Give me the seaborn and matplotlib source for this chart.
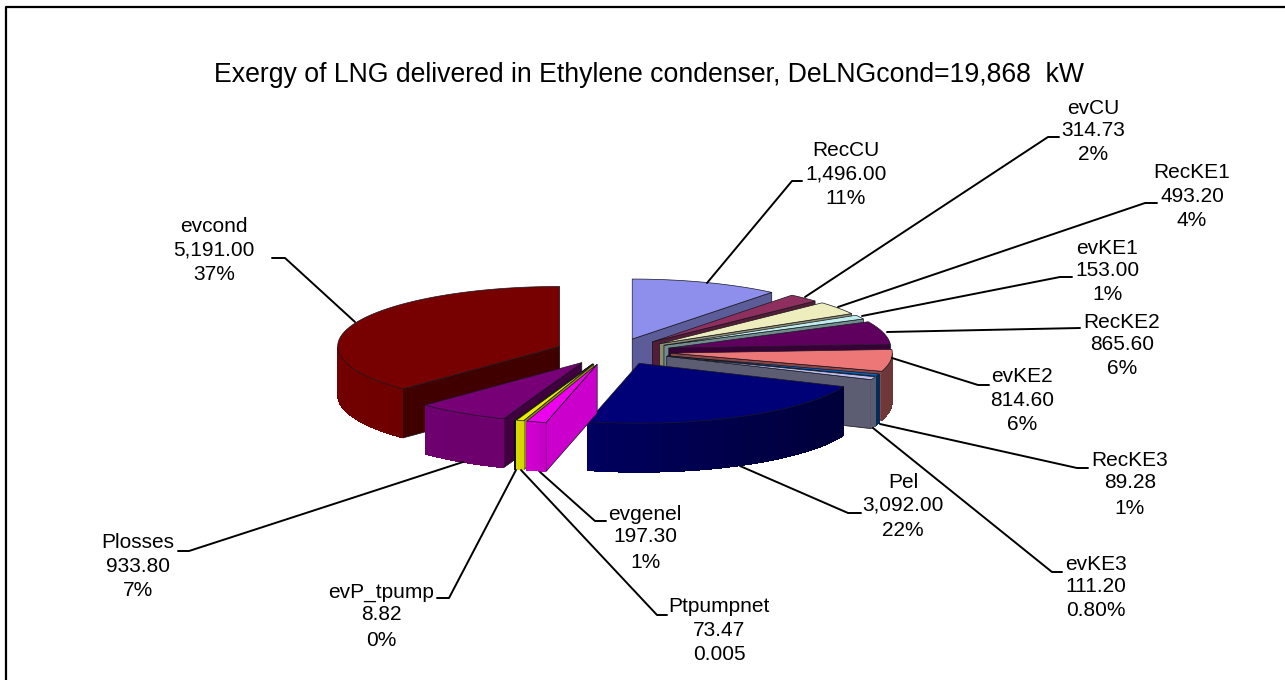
import numpy as np
from matplotlib import pyplot as plt
from matplotlib.collections import PolyCollection
import seaborn as sns

# 3D exploded pie, excel style. slices go clockwise from 12 o'clock
names = ["RecCU", "evCU", "RecKE1", "evKE1", "RecKE2", "evKE2", "RecKE3", "evKE3",
         "Pel", "evgenel", "Ptpumpnet", "evP_tpump", "Plosses", "evcond"]
values = [1496.00, 314.73, 493.20, 153.00, 865.60, 814.60, 89.28, 111.20,
          3092.00, 197.30, 73.47, 8.82, 933.80, 5191.00]
percents = ["11%", "2%", "4%", "1%", "6%", "6%", "1%", "0.80%",
            "22%", "1%", "0.005", "0%", "7%", "37%"]
slice_colors = ["#9999FF", "#993366", "#FFFFCC", "#CCFFFF", "#660066", "#FF8080", "#0066CC", "#CCCCFF",
                "#000080", "#FF00FF", "#FFFF00", "#101010", "#800080", "#800000"]

title = "Exergy of LNG delivered in Ethylene condenser, DeLNGcond=19,868  kW"

# layout, in pixels of the output
CX, CY = 613, 351.5
RX, RY = 222, 60
DEPTH = 49
EXPLODE_X = 0.26
EXPLODE_Y = 0.22

# label centre x and the y of its 3 lines
label_pos = {
    "RecCU": (846, (151, 174, 198)),
    "evCU": (1093, (108, 130, 155)),
    "RecKE1": (1192, (173, 196, 221)),
    "evKE1": (1107, (248, 270, 295)),
    "RecKE2": (1122, (322, 344, 369)),
    "evKE2": (1022, (377, 400, 424)),
    "RecKE3": (1130, (461, 483, 508)),
    "evKE3": (1096, (564, 587, 611)),
    "Pel": (903, (483, 505, 530)),
    "evgenel": (645, (514, 537, 562)),
    "Ptpumpnet": (719, (607, 630, 654)),
    "evP_tpump": (381, (592, 614, 640)),
    "Plosses": (138, (543, 567, 591)),
    "evcond": (214, (227, 250, 274)),
}
leaders = {
    "RecCU": [(707, 283), (792, 181), (802, 181)],
    "evCU": [(805, 297), (1048, 137), (1059, 137)],
    "RecKE1": [(838, 307), (1145, 203), (1157, 203)],
    "evKE1": [(862, 316), (1060, 277), (1072, 277)],
    "RecKE2": [(887, 332), (1080, 328)],
    "evKE2": [(892, 358), (978, 385), (989, 385)],
    "RecKE3": [(880, 424), (1077, 468), (1088, 468)],
    "evKE3": [(873, 428), (1052, 572), (1062, 572)],
    "Pel": [(740, 466), (848, 513), (861, 513)],
    "evgenel": [(540, 472), (595, 521), (606, 521)],
    "Ptpumpnet": [(521, 470), (657, 615), (667, 615)],
    "evP_tpump": [(516, 470), (449, 598), (437, 598)],
    "Plosses": [(463, 462), (189, 551), (178, 551)],
    "evcond": [(355, 322), (285, 258), (272, 258)],
}

# how dark the rim is going round the front
RIM_ANGLES = [90, 115, 150, 190, 200, 270]
RIM_SHADES = [0.42, 0.45, 0.55, 0.72, 0.85, 0.9]
TOP_SHADE = 0.93
FACE_SHADE = {"RecCU": 0.6, "evKE3": 0.45, "evgenel": 0.8, "evcond": 0.5, "Plosses": 0.5}

sns.set_theme(style="white")
plt.rcParams["font.family"] = ["Liberation Sans", "DejaVu Sans"]
rgb = sns.color_palette(slice_colors)


def shade(color, k):
    return tuple(c * k for c in color)


fig = plt.figure(figsize=(12.85, 6.8), dpi=100)
ax = fig.add_axes([0, 0, 1, 1])
ax.set_xlim(0, 1285)
ax.set_ylim(680, 0)
ax.axis("off")

ax.plot([6, 6, 1285], [680, 7, 7], color="black", lw=1.6, solid_capstyle="butt")

edges = np.cumsum([0] + values) / sum(values) * 360
mids = (edges[:-1] + edges[1:]) / 2
# back slices first
order = np.argsort(-np.cos(np.radians(mids)))

for i in order:
    t0, t1 = edges[i], edges[i + 1]
    mid = np.radians(mids[i])
    ax_x = CX + EXPLODE_X * RX * np.sin(mid)
    ax_y = CY - EXPLODE_Y * RY * np.cos(mid)

    arc = np.radians(np.linspace(t0, t1, max(3, int(t1 - t0) * 2)))
    arc_x = ax_x + RX * np.sin(arc)
    arc_y = ax_y - RY * np.cos(arc)

    # cut faces, only the ones turned to the viewer
    face_k = FACE_SHADE.get(names[i], 0.55)
    face_color = shade(rgb[i], face_k)
    if np.sin(np.radians(t0)) < 0:
        ax.fill([ax_x, arc_x[0], arc_x[0], ax_x], [ax_y, arc_y[0], arc_y[0] + DEPTH, ax_y + DEPTH],
                facecolor=face_color, edgecolor="#101018", lw=0.5)
    if np.sin(np.radians(t1)) > 0:
        ax.fill([ax_x, arc_x[-1], arc_x[-1], ax_x], [ax_y, arc_y[-1], arc_y[-1] + DEPTH, ax_y + DEPTH],
                facecolor=face_color, edgecolor="#101018", lw=0.5)

    # outer rim, cut into small strips for the shading
    quads, quad_colors = [], []
    for j in range(len(arc) - 1):
        if np.cos(arc[j]) > 0 and np.cos(arc[j + 1]) > 0:
            continue
        quads.append([(arc_x[j], arc_y[j]), (arc_x[j + 1], arc_y[j + 1]),
                      (arc_x[j + 1], arc_y[j + 1] + DEPTH), (arc_x[j], arc_y[j] + DEPTH)])
        k = np.interp(np.degrees((arc[j] + arc[j + 1]) / 2), RIM_ANGLES, RIM_SHADES)
        quad_colors.append(shade(rgb[i], k))
    if quads:
        ax.add_collection(PolyCollection(quads, facecolors=quad_colors, edgecolors="none",
                                         linewidths=0, antialiaseds=False))

    # top of the slice
    ax.fill(np.r_[ax_x, arc_x], np.r_[ax_y, arc_y], facecolor=shade(rgb[i], TOP_SHADE),
            edgecolor="#181820", lw=0.5)

for name, value, pct in zip(names, values, percents):
    pts = leaders[name]
    ax.plot([p[0] for p in pts], [p[1] for p in pts], color="black", lw=1.4)
    x, ys = label_pos[name]
    for y, line in zip(ys, [name, f"{value:,.2f}", pct]):
        ax.text(x, y, line, ha="center", va="center", fontsize=15, color="black")

# title runs from x=213 to x=1086, size it to that
t = ax.text(649.5, 82, title, ha="center", va="baseline", fontsize=19, color="black")
width = t.get_window_extent(fig.canvas.get_renderer()).width
t.set_fontsize(19 * 873 / width)

plt.savefig("out.png", dpi=100)
